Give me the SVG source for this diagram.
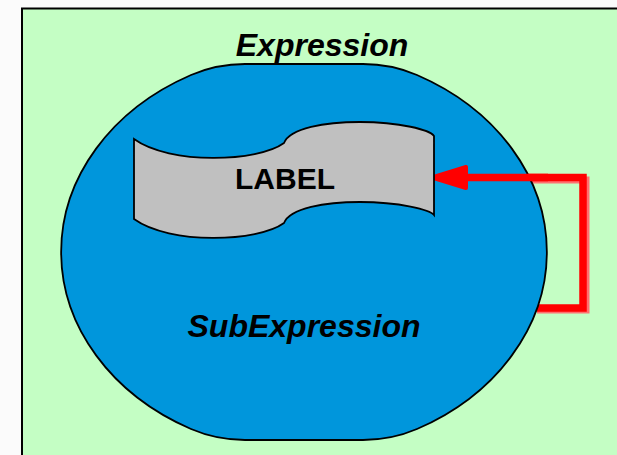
<svg xmlns="http://www.w3.org/2000/svg" width="617" height="455" viewBox="0 0 617 455">
<style>
.lbl{font-family:"Liberation Sans",Arial,sans-serif;font-weight:bold;fill:#000;text-anchor:middle}
.it{font-style:italic;font-size:32px}
.ln{fill:none;stroke-linejoin:miter}
</style>
<rect x="0" y="0" width="617" height="455" fill="#fbfbfb"/>
<g id="expression">
<rect x="22" y="8.5" width="610" height="460" fill="#c4fec4" stroke="#000" stroke-width="2"/>
<text class="lbl it" x="322" y="56">Expression</text>
</g>
<g id="connectors">
<path class="ln" d="M537,310 L586,310 L586,180 L465,180" stroke="#ff7070" stroke-width="7"/>
<path class="ln" d="M537,308 L583,308 L583,177.5 L462,177.5" stroke="#ff0000" stroke-width="7.5"/>
</g>
<g id="subexpression">
<path d="M245,64 L363,64 C383,64 403,69 417,75 A243 200 0 0 1 417,429 C403,435 383,440 363,440 L245,440 C225,440 205,435 191,429 A243 200 0 0 1 191,75 C205,69 225,64 245,64 Z" fill="#0096dc" stroke="#000" stroke-width="1.8"/>
<text class="lbl it" x="304" y="337">SubExpression</text>
</g>
<g id="connector-top">
<path class="ln" d="M548,177.5 L462,177.5" stroke="#ff0000" stroke-width="7.5"/>
<polygon points="432,177.5 466,167 466,188" fill="#ff0000" stroke="#ff0000" stroke-width="4" stroke-linejoin="round"/>
</g>
<g id="label">
<path d="M134,139 C170,165 258,162 284,143 C290,128 325,122 360,122 C400,122 430,130 434,136 L434,215 C430,210 400,202 360,202 C325,202 290,208 284,223 C258,242 170,245 134,219 Z" fill="#c0c0c0" stroke="#000" stroke-width="1.8"/>
<text class="lbl" x="285" y="189" font-size="30">LABEL</text>
</g>
</svg>
